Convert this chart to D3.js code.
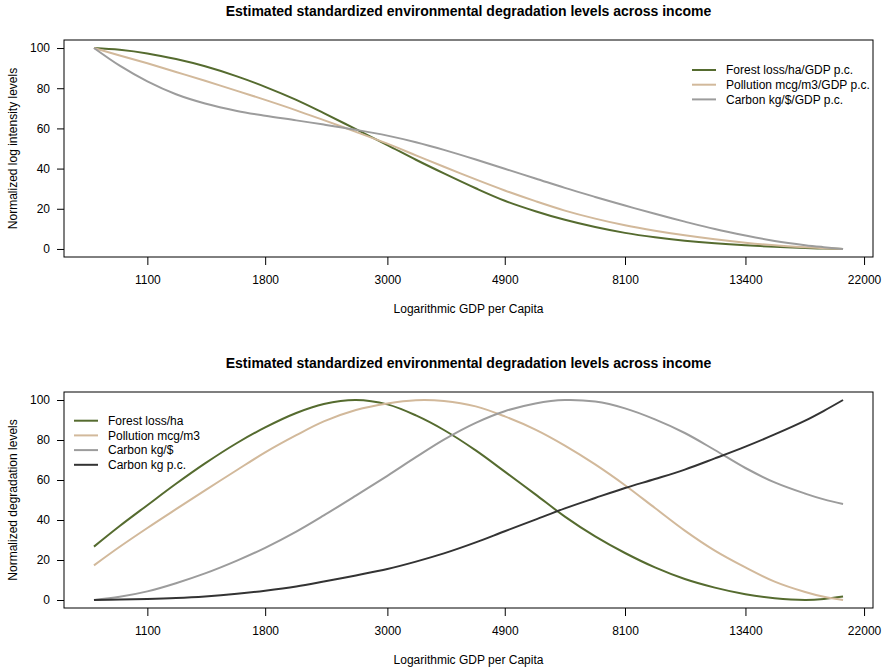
<!DOCTYPE html>
<html>
<head>
<meta charset="utf-8">
<script src="https://cdn.jsdelivr.net/npm/d3@7"></script>
<style>
  body { margin: 0; background: #fff; }
  svg text { font-family: "Liberation Sans", Arial, sans-serif; fill: #000; }
</style>
</head>
<body>
<svg id="chart" width="884" height="671"></svg>
<script>
// GDP per capita sample points (log x axis)
const gdp = [880, 980, 1100, 1240, 1400, 1600, 1800, 2050, 2300, 2630, 3000, 3380, 3800, 4340,
             4900, 5570, 6300, 7150, 8100, 9180, 10400, 11790, 13400, 15140, 17200, 18600, 20150];

// top panel: normalized log intensity levels
const forestIntensity    = [100, 99.1, 97.3, 94.5, 90.9, 85.9, 80.7, 74.2, 67.6, 59.6, 51.7, 44.4, 37.6, 30.2,
                            24, 18.8, 14.5, 10.9, 8, 5.8, 4.1, 2.8, 1.8, 1.1, 0.5, 0.2, 0];
const pollutionIntensity = [100, 96.3, 92.4, 88.1, 83.7, 78.7, 74.2, 69, 64.1, 58.3, 52.4, 46.6, 40.9, 34.6,
                            29.1, 23.8, 19.1, 15.1, 11.8, 9.1, 6.8, 4.8, 3.1, 1.8, 0.8, 0.3, 0];
const carbonIntensity    = [100, 91.2, 83.4, 77, 72.4, 68.7, 66.3, 64, 61.9, 59.3, 56.4, 53.1, 49.3, 44.5,
                            39.9, 35.1, 30.4, 25.9, 21.6, 17.5, 13.6, 9.9, 6.7, 4, 1.9, 0.9, 0];

// bottom panel: normalized degradation levels
const forestLevel     = [26.7, 37, 47.4, 58.1, 68.3, 78.5, 86.3, 93.5, 98, 100, 97.8, 92.3, 85, 74.8,
                         64.2, 52.8, 41.7, 31.8, 23.5, 16.3, 10.5, 6.2, 2.9, 0.9, 0.05, 0.5, 1.7];
const pollutionLevel  = [17.3, 26.6, 36, 45.4, 54.8, 65, 73.8, 82.4, 89.3, 95, 98.3, 99.9, 99.5, 96.8,
                         91.8, 85.2, 77.2, 67.8, 57.4, 46, 34.7, 24.7, 16.3, 9.2, 4, 1.6, 0];
const carbonPerDollar = [0, 1.6, 4.3, 8.4, 13.3, 19.7, 26.1, 34.2, 42.3, 52.2, 62.1, 71.4, 80.2, 88.6,
                         94.4, 98.3, 100, 99.2, 95.8, 90.3, 83.5, 75, 66, 58.8, 53.2, 50.3, 48];
const carbonPerCap    = [0, 0.2, 0.5, 1, 1.8, 3.1, 4.6, 6.7, 9.2, 12.3, 15.5, 19.2, 23.3, 28.8,
                         34.4, 40.2, 45.8, 51, 56, 60.5, 65.2, 70.8, 76.7, 82.8, 89.7, 94.6, 100];

const xTicks = [1100, 1800, 3000, 4900, 8100, 13400, 22000];
const yTicks = [0, 20, 40, 60, 80, 100];

const titleText = "Estimated standardized environmental degradation levels across income";
const xTitle = "Logarithmic GDP per Capita";

const colors = {
  forest: "#556b2f",
  pollution: "#d2b99b",
  carbon: "#9c9c9c",
  carbonPc: "#333333"
};

const svg = d3.select("svg#chart");

const panels = [
  {
    top: 40, bottom: 257,
    yTitle: "Normalized log intensity levels",
    series: [
      { name: "Forest loss/ha/GDP p.c.", values: forestIntensity, color: colors.forest },
      { name: "Pollution mcg/m3/GDP p.c.", values: pollutionIntensity, color: colors.pollution },
      { name: "Carbon kg/$/GDP p.c.", values: carbonIntensity, color: colors.carbon }
    ],
    legend: { x: 692, y: 70 }
  },
  {
    top: 392, bottom: 608,
    yTitle: "Normalized degradation levels",
    series: [
      { name: "Forest loss/ha", values: forestLevel, color: colors.forest },
      { name: "Pollution mcg/m3", values: pollutionLevel, color: colors.pollution },
      { name: "Carbon kg/$", values: carbonPerDollar, color: colors.carbon },
      { name: "Carbon kg p.c.", values: carbonPerCap, color: colors.carbonPc }
    ],
    legend: { x: 74, y: 420.7 }
  }
];

const left = 64, right = 873;

// R-style 4% padding on the log axis
const lo = Math.log(d3.min(gdp)), hi = Math.log(d3.max(gdp));
const pad = 0.04 * (hi - lo);
const x = d3.scaleLog()
  .domain([Math.exp(lo - pad), Math.exp(hi + pad)])
  .range([left, right]);

panels.forEach(p => {
  const y = d3.scaleLinear()
    .domain([-4, 104])
    .range([p.bottom, p.top]);

  const g = svg.append("g");

  // title
  g.append("text")
    .attr("x", (left + right) / 2)
    .attr("y", p.top - 24)
    .attr("text-anchor", "middle")
    .attr("font-weight", "bold")
    .attr("font-size", "14px")
    .text(titleText);

  // series
  const line = d3.line()
    .x((d, i) => x(gdp[i]))
    .y(d => y(d))
    .curve(d3.curveCatmullRom.alpha(0.5));

  g.selectAll("path.series")
    .data(p.series)
    .enter().append("path")
    .attr("class", "series")
    .attr("fill", "none")
    .attr("stroke", d => d.color)
    .attr("stroke-width", 2)
    .attr("d", d => line(d.values));

  // x axis
  const xAxis = g.append("g")
    .attr("transform", `translate(0,${p.bottom})`)
    .call(d3.axisBottom(x)
      .tickValues(xTicks)
      .tickFormat(d3.format("d"))
      .tickSize(8)
      .tickPadding(10));
  xAxis.select(".domain").remove();
  xAxis.selectAll("text").attr("font-size", "12px").attr("font-family", null);

  // y axis
  const yAxis = g.append("g")
    .attr("transform", `translate(${left},0)`)
    .call(d3.axisLeft(y)
      .tickValues(yTicks)
      .tickSize(7)
      .tickPadding(7));
  yAxis.select(".domain").remove();
  yAxis.selectAll("text").attr("font-size", "12px").attr("font-family", null);

  // box
  g.append("rect")
    .attr("x", left)
    .attr("y", p.top)
    .attr("width", right - left)
    .attr("height", p.bottom - p.top)
    .attr("fill", "none")
    .attr("stroke", "#000")
    .attr("stroke-width", 1);

  // axis titles
  g.append("text")
    .attr("x", (left + right) / 2)
    .attr("y", p.bottom + 56)
    .attr("text-anchor", "middle")
    .attr("font-size", "12px")
    .text(xTitle);

  g.append("text")
    .attr("transform", `translate(17,${(p.top + p.bottom) / 2}) rotate(-90)`)
    .attr("text-anchor", "middle")
    .attr("font-size", "12px")
    .text(p.yTitle);

  // legend
  const lg = g.append("g").attr("transform", `translate(${p.legend.x},${p.legend.y})`);
  const rows = lg.selectAll("g")
    .data(p.series)
    .enter().append("g")
    .attr("transform", (d, i) => `translate(0,${i * 14.7})`);
  rows.append("line")
    .attr("x1", 0).attr("x2", 24)
    .attr("stroke", d => d.color)
    .attr("stroke-width", 2);
  rows.append("text")
    .attr("x", 34)
    .attr("dy", "0.35em")
    .attr("font-size", "12px")
    .text(d => d.name);
});
</script>
</body>
</html>
